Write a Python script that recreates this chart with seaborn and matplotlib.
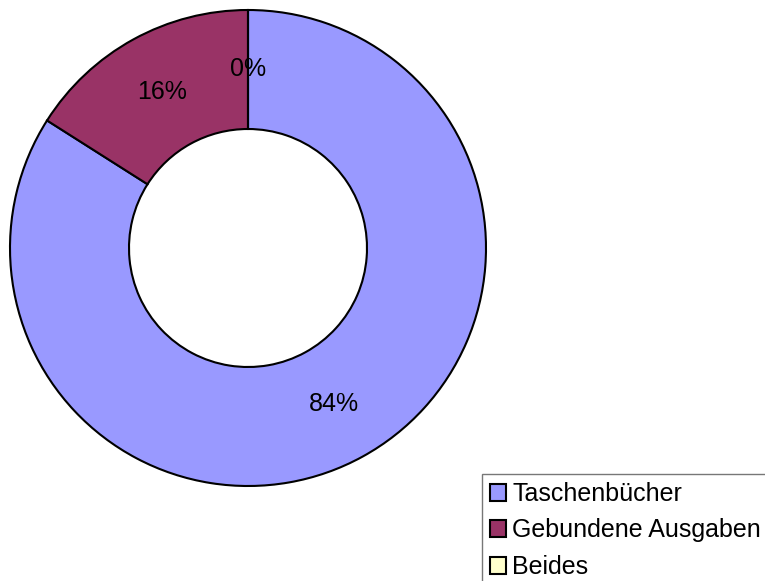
import matplotlib
matplotlib.use("Agg")
import matplotlib.pyplot as plt
import seaborn as sns

# ---------------------------
# Data
# ---------------------------
categories = ["Taschenbücher", "Gebundene Ausgaben", "Beides"]
values = [84, 16, 0]
colors = ["#9999FF", "#993366", "#FFFFCC"]

# ---------------------------
# Style
# ---------------------------
sns.set_theme(style="white")
plt.rcParams["font.family"] = ["Liberation Sans", "DejaVu Sans"]

fig = plt.figure(figsize=(7.65, 5.81), dpi=100)
ax = fig.add_axes([10 / 765, 95 / 581, 476 / 765, 476 / 581])

wedges, texts, autotexts = ax.pie(
    values,
    colors=colors,
    startangle=90,
    counterclock=False,
    autopct="%1.0f%%",
    pctdistance=0.75,
    wedgeprops=dict(width=0.5, edgecolor="black", linewidth=1.5),
    textprops=dict(fontsize=18, color="black"),
)
ax.set_xlim(-1.0, 1.0)
ax.set_ylim(-1.0, 1.0)
ax.set_aspect("auto")
ax.axis("off")

# Legend in lower right, partly cut off like the original
leg = fig.legend(
    wedges, categories,
    loc="upper left",
    bbox_to_anchor=(482 / 765, 1 - 474 / 581),
    frameon=True, fancybox=False,
    fontsize=18, handlelength=0.65, handleheight=0.65,
    handletextpad=0.25, labelspacing=0.5, borderpad=0.32,
    borderaxespad=0, labelcolor="black",
)
leg.get_frame().set_edgecolor("#555555")
leg.get_frame().set_linewidth(1.0)
for h in leg.legend_handles:
    h.set_edgecolor("black")
    h.set_linewidth(1.5)

fig.savefig("out.png", dpi=100)
